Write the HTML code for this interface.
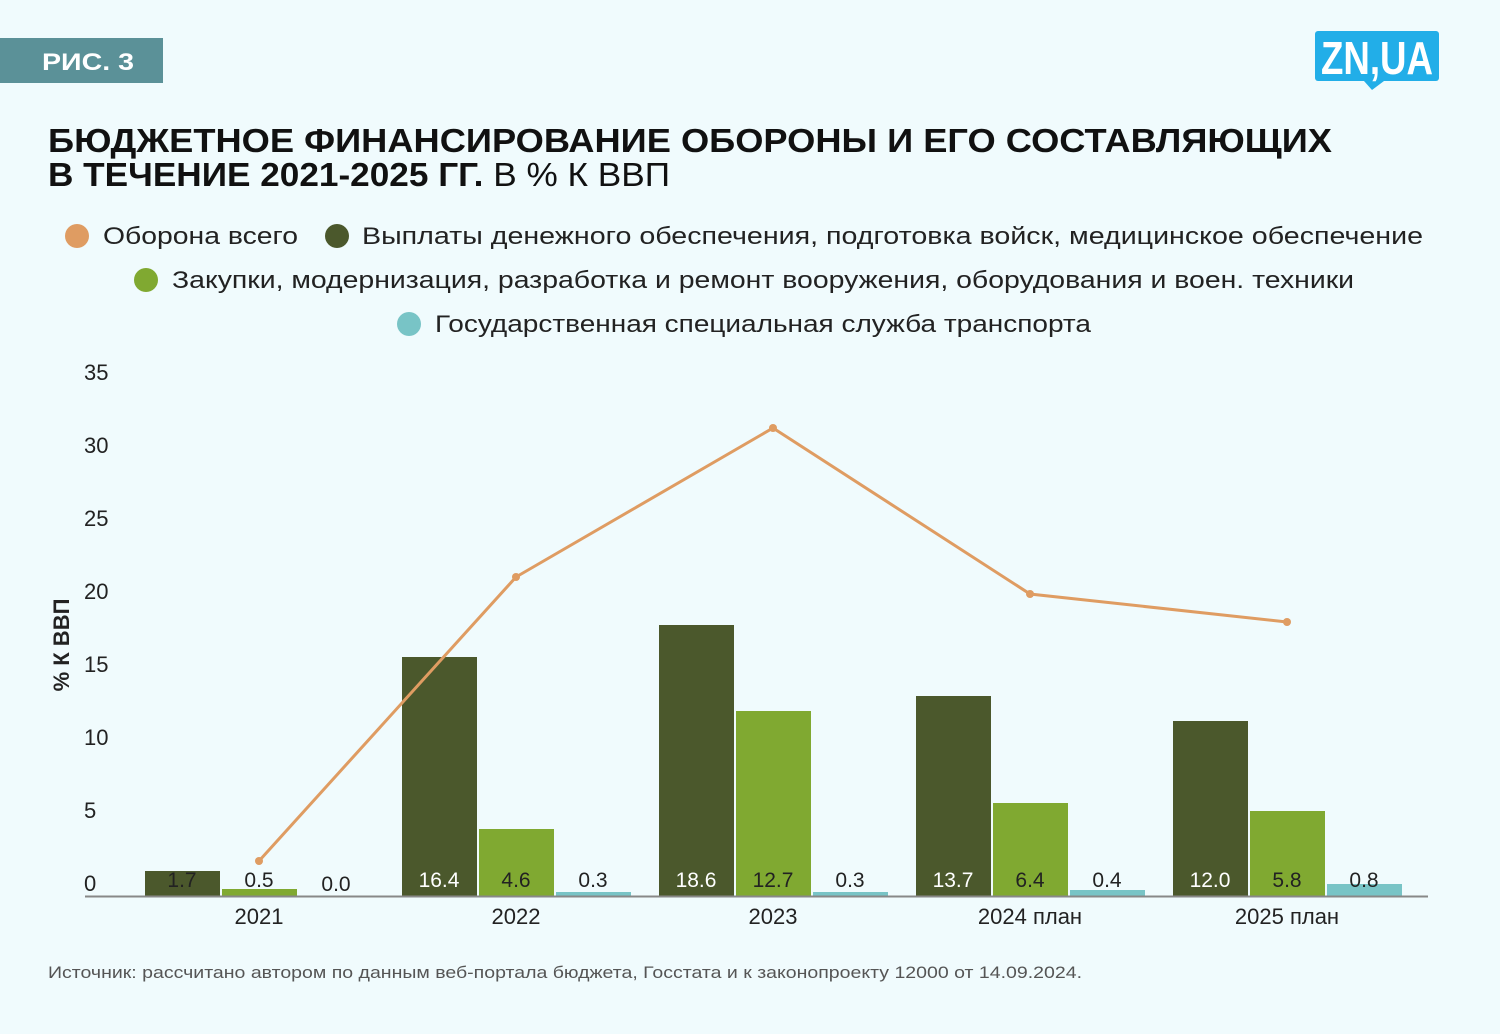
<!DOCTYPE html><html><head><meta charset="utf-8"><style>
body{margin:0;width:1500px;height:1029px;background:#f0fbfd;font-family:"Liberation Sans",sans-serif;overflow:hidden}
</style></head><body>
<svg width="1500" height="1029" xmlns="http://www.w3.org/2000/svg" font-family="Liberation Sans, sans-serif">
<rect x="0" y="38" width="163" height="45" fill="#5b9198"/>
<text x="88" y="70" font-size="24" font-weight="bold" fill="#fff" text-anchor="middle" textLength="92" lengthAdjust="spacingAndGlyphs">РИС. 3</text>
<rect x="1315" y="31" width="124" height="50" rx="3" fill="#22aee8"/>
<polygon points="1364,81 1384,81 1372,90" fill="#22aee8"/>
<text x="1377" y="74" font-size="46" font-weight="bold" fill="#fff" text-anchor="middle" textLength="112" lengthAdjust="spacingAndGlyphs">ZN,UA</text>
<text x="48" y="152" font-size="33" font-weight="bold" fill="#111" textLength="1284" lengthAdjust="spacingAndGlyphs">БЮДЖЕТНОЕ ФИНАНСИРОВАНИЕ ОБОРОНЫ И ЕГО СОСТАВЛЯЮЩИХ</text>
<text x="48" y="186" font-size="33" fill="#111" textLength="622" lengthAdjust="spacingAndGlyphs"><tspan font-weight="bold">В ТЕЧЕНИЕ 2021-2025 ГГ.</tspan> В % К ВВП</text>
<g font-size="24" fill="#222">
<circle cx="77" cy="236" r="12" fill="#df9c62"/><text x="103" y="244" textLength="195" lengthAdjust="spacingAndGlyphs">Оборона всего</text>
<circle cx="337" cy="236" r="12" fill="#4b582c"/><text x="362" y="244" textLength="1061" lengthAdjust="spacingAndGlyphs">Выплаты денежного обеспечения, подготовка войск, медицинское обеспечение</text>
<circle cx="146" cy="280" r="12" fill="#80a931"/><text x="172" y="288" textLength="1182" lengthAdjust="spacingAndGlyphs">Закупки, модернизация, разработка и ремонт вооружения, оборудования и воен. техники</text>
<circle cx="409" cy="324" r="12" fill="#78c4c6"/><text x="435" y="332" textLength="656" lengthAdjust="spacingAndGlyphs">Государственная специальная служба транспорта</text>
</g>
<g font-size="22" fill="#222">
<text x="84" y="380">35</text><text x="84" y="453">30</text><text x="84" y="526">25</text><text x="84" y="599">20</text><text x="84" y="672">15</text><text x="84" y="745">10</text><text x="84" y="818">5</text><text x="84" y="891">0</text>
</g>
<text transform="translate(69,645) rotate(-90)" font-size="22" font-weight="bold" fill="#222" text-anchor="middle">% К ВВП</text>
<g>
<rect x="145" y="871" width="75" height="25" fill="#4b582c"/><rect x="222" y="889" width="75" height="7" fill="#80a931"/>
<rect x="402" y="657" width="75" height="239" fill="#4b582c"/><rect x="479" y="829" width="75" height="67" fill="#80a931"/><rect x="556" y="892" width="75" height="4" fill="#78c4c6"/>
<rect x="659" y="625" width="75" height="271" fill="#4b582c"/><rect x="736" y="711" width="75" height="185" fill="#80a931"/><rect x="813" y="892" width="75" height="4" fill="#78c4c6"/>
<rect x="916" y="696" width="75" height="200" fill="#4b582c"/><rect x="993" y="803" width="75" height="93" fill="#80a931"/><rect x="1070" y="890" width="75" height="6" fill="#78c4c6"/>
<rect x="1173" y="721" width="75" height="175" fill="#4b582c"/><rect x="1250" y="811" width="75" height="85" fill="#80a931"/><rect x="1327" y="884" width="75" height="12" fill="#78c4c6"/>
</g>
<line x1="85" y1="896.5" x2="1428" y2="896.5" stroke="#888" stroke-width="2"/>
<g font-size="21" text-anchor="middle" fill="#222">
<text x="182" y="887">1.7</text><text x="259" y="887">0.5</text><text x="336" y="891">0.0</text>
<text x="439" y="887" fill="#fff">16.4</text><text x="516" y="887">4.6</text><text x="593" y="887">0.3</text>
<text x="696" y="887" fill="#fff">18.6</text><text x="773" y="887">12.7</text><text x="850" y="887">0.3</text>
<text x="953" y="887" fill="#fff">13.7</text><text x="1030" y="887">6.4</text><text x="1107" y="887">0.4</text>
<text x="1210" y="887" fill="#fff">12.0</text><text x="1287" y="887">5.8</text><text x="1364" y="887">0.8</text>
</g>
<g font-size="22" text-anchor="middle" fill="#222">
<text x="259" y="924">2021</text><text x="516" y="924">2022</text><text x="773" y="924">2023</text><text x="1030" y="924">2024 план</text><text x="1287" y="924">2025 план</text>
</g>
<polyline points="259,861 516,577 773,428 1030,594 1287,622" fill="none" stroke="#df9c62" stroke-width="3"/>
<g fill="#df9c62"><circle cx="259" cy="861" r="4"/><circle cx="516" cy="577" r="4"/><circle cx="773" cy="428" r="4"/><circle cx="1030" cy="594" r="4"/><circle cx="1287" cy="622" r="4"/></g>
<text x="48" y="978" font-size="17" fill="#555" textLength="1034" lengthAdjust="spacingAndGlyphs">Источник: рассчитано автором по данным веб-портала бюджета, Госстата и к законопроекту 12000 от 14.09.2024.</text>
</svg>
</body></html>
